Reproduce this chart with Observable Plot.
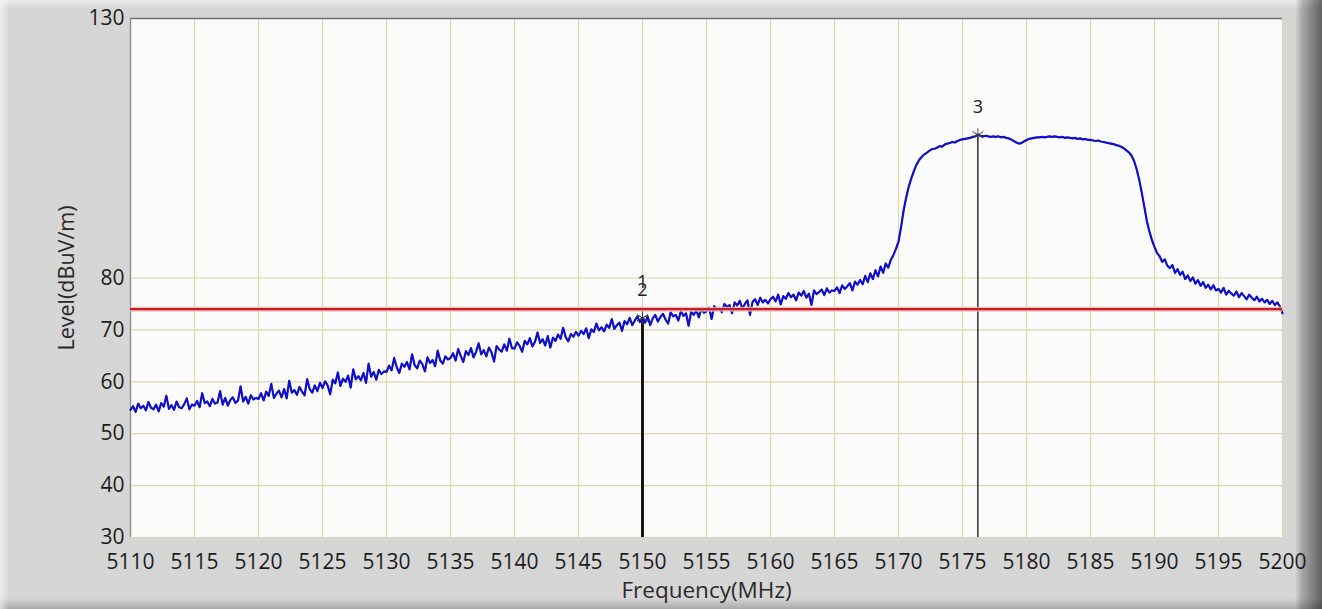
<!DOCTYPE html>
<html>
<head>
<meta charset="utf-8">
<script src="https://cdn.jsdelivr.net/npm/d3@7"></script>
<script src="https://cdn.jsdelivr.net/npm/@observablehq/plot@0.6"></script>
<style>
  html, body { margin: 0; padding: 0; background: #d6d6d6; }
  #panel {
    position: relative;
    width: 1322px;
    height: 609px;
    overflow: hidden;
    background:
      linear-gradient(to right, rgba(255,255,255,0.55) 0px, rgba(255,255,255,0) 9px, rgba(0,0,0,0) 1295px, rgba(0,0,0,0.22) 1302px, rgba(0,0,0,0.55) 1322px),
      linear-gradient(to bottom, #ececec 0px, #d6d6d6 9px, #d6d6d6 598px, #a9a9a9 609px);
  }
  #panel svg { display: block; background: transparent; }
</style>
</head>
<body>
<div id="panel"></div>
<script>
// Sweep settings: first frequency and spacing of the measured points (MHz)
const freqStart = 5110;
const freqStep = 0.2;

// Measured field strength, dBuV/m, one value per sweep point (5110.0 ... 5200.0)
const levels = [
  54.6,55.3,54.2,55.8,54.9,55.4,54.5,56.1,55.0,54.7,55.6,54.3,55.9,55.2,57.3,54.8,55.5,54.6,56.2,55.1,54.9,55.7,56.8,54.7,55.6,
  55.4,56.3,55.1,57.8,55.9,56.2,55.3,56.7,55.8,56.0,58.2,55.6,56.9,55.4,56.5,57.0,55.9,56.4,59.1,56.2,57.1,55.8,57.4,56.6,56.9,
  56.7,57.8,56.4,58.1,57.3,59.6,56.9,57.7,58.3,57.0,58.6,56.8,60.2,57.9,58.4,57.5,59.0,58.1,57.4,60.5,58.6,57.9,59.3,58.2,59.8,
  58.8,60.1,59.3,57.6,60.4,59.7,61.8,59.2,60.6,60.0,61.2,58.9,62.4,60.5,61.1,60.3,61.7,59.8,63.5,61.0,61.9,60.4,62.3,61.5,62.0,
  61.9,63.1,62.2,64.6,62.8,61.7,63.5,62.9,63.8,62.4,65.3,63.2,62.6,64.1,63.4,62.0,64.7,63.6,64.2,63.0,66.0,64.1,63.5,64.9,64.3,
  64.6,65.5,64.1,66.3,65.0,63.8,65.9,65.2,66.5,64.7,65.8,67.4,65.3,66.1,64.9,66.6,65.7,63.9,66.9,66.2,65.8,67.2,66.0,68.3,66.5,
  66.4,67.6,66.9,65.8,67.9,67.2,68.4,66.8,67.7,69.5,67.5,68.2,67.0,68.8,66.6,68.5,67.9,69.1,68.3,70.4,68.6,67.8,69.2,68.7,69.6,
  68.9,69.8,69.2,70.3,68.4,70.1,69.6,71.2,69.9,70.5,69.7,71.0,70.4,72.1,70.2,70.9,71.4,69.8,71.7,71.1,72.3,70.9,71.8,72.6,71.5,
  72.3,71.4,72.6,70.9,72.2,72.9,71.6,72.5,73.1,72.0,71.2,73.4,72.6,72.9,71.8,73.6,72.7,73.2,70.8,73.5,72.9,73.8,72.4,74.1,73.3,
  73.6,74.3,72.1,74.6,73.9,74.2,73.4,75.0,74.4,74.8,73.2,75.3,74.7,75.6,74.1,75.0,75.7,72.9,75.4,75.9,74.8,76.2,75.3,75.8,75.1,
  75.9,76.4,75.5,76.8,74.9,76.5,76.0,77.1,76.3,76.8,75.7,77.2,76.6,77.5,76.2,77.0,74.8,77.6,76.9,77.3,77.8,76.7,78.0,77.2,77.6,
  77.5,78.2,77.1,78.6,77.9,78.4,79.0,77.6,79.3,78.7,79.6,78.8,80.4,79.2,80.9,79.8,81.5,80.3,82.2,81.0,82.8,82.0,83.5,84.4,85.6,
  87.0,89.8,93.0,95.5,97.6,99.2,100.6,101.8,102.7,103.3,103.8,104.1,104.5,104.8,104.9,105.1,105.4,105.3,105.7,105.9,106.0,106.2,106.1,106.4,106.6,
  106.7,106.8,106.9,107.0,107.2,107.3,107.6,107.4,107.3,107.4,107.3,107.2,107.3,107.2,107.3,107.1,107.2,107.0,106.9,106.7,106.4,106.1,105.9,106.0,106.3,
  106.6,106.8,106.9,107.0,107.1,107.1,107.2,107.1,107.2,107.3,107.2,107.3,107.2,107.1,107.2,107.0,107.1,107.0,106.9,107.0,106.8,106.9,106.7,106.8,106.6,
  106.6,106.5,106.4,106.5,106.3,106.2,106.1,106.0,105.9,105.8,105.6,105.5,105.3,105.0,104.6,104.2,103.6,102.6,101.0,99.0,96.5,93.8,91.0,89.0,87.3,
  86.0,84.8,84.2,83.1,83.6,82.4,81.9,82.5,81.0,81.7,80.6,81.2,79.8,80.5,79.4,80.1,78.9,79.6,78.5,79.2,78.1,78.7,77.8,78.6,77.6,
  77.9,77.2,78.1,76.8,77.5,77.0,76.6,77.4,76.3,77.1,76.5,75.9,76.8,76.2,75.7,76.4,75.5,76.0,75.3,75.8,75.0,75.6,74.8,75.3,74.5,
  73.2
];

// Limit line, dBuV/m
const limitLevel = 74;

// Markers
const markerLabels = ["1", "2", "3"];
const markerFreqs = [5150, 5150, 5176.2];
const markerLevels = [72.3, 72.3, 107.6];

// Axis ticks
const xTicks = [5110, 5115, 5120, 5125, 5130, 5135, 5140, 5145, 5150, 5155,
                5160, 5165, 5170, 5175, 5180, 5185, 5190, 5195, 5200];
const yTicks = [30, 40, 50, 60, 70, 80, 130];

const trace = levels.map((v, i) => ({freq: +(freqStart + i * freqStep).toFixed(1), level: v}));

// markers sharing a frequency are stacked: labels offset, rules overlap
const markers = markerLabels.map((label, i) => ({label, freq: markerFreqs[i], level: markerLevels[i]}));
markers.forEach((m) => {
  const same = markers.filter((o) => o.freq === m.freq);
  m.count = same.length;
  m.rank = same.indexOf(m);
});

const font = "'Open Sans', 'Noto Sans', sans-serif";

const chart = Plot.plot({
  width: 1322,
  height: 609,
  marginLeft: 130,
  marginRight: 40,
  marginTop: 18,
  marginBottom: 72,
  style: {fontFamily: font, fontSize: "21px", color: "#1c1c1c", background: "transparent"},
  x: {domain: [5110, 5200]},
  y: {domain: [30, 130]},
  marks: [
    Plot.frame({fill: "#fbfbfb", stroke: null}),
    Plot.gridX(xTicks, {stroke: "#dcd6b2", strokeOpacity: 1, strokeWidth: 1.2}),
    Plot.gridY(yTicks, {stroke: "#dcd6b2", strokeOpacity: 1, strokeWidth: 1.2}),
    Plot.axisX(xTicks, {tickSize: 0, tickPadding: 17, label: null, tickFormat: (d) => String(d)}),
    Plot.axisY(yTicks, {tickSize: 0, tickPadding: 6, label: null, tickFormat: (d) => String(d)}),
    Plot.text(["Frequency(MHz)"], {frameAnchor: "bottom", dy: 60, text: (d) => d, fill: "#2a2a2a", fontSize: 22.5, textAnchor: "middle"}),
    Plot.text(["Level(dBuV/m)"], {frameAnchor: "left", dx: -63, rotate: -90, text: (d) => d, fill: "#2a2a2a", fontSize: 21.5, textAnchor: "middle"}),
    // frame edges
    Plot.ruleY([130], {stroke: "#6f6f6f", strokeWidth: 1.6}),
    Plot.ruleX([5110], {stroke: "#8a8a8a", strokeWidth: 1.3}),
    // marker rules down to the bottom of the plot
    Plot.ruleX(markers, {x: "freq", y1: 30, y2: "level", stroke: "#111", strokeWidth: (d) => 1.3 * d.count}),
    // trace
    Plot.line(trace, {x: "freq", y: "level", stroke: "#1d1d86", strokeWidth: 2.2, curve: "linear"}),
    Plot.line(trace, {x: "freq", y: "level", stroke: "#0a0af2", strokeWidth: 1.2, curve: "linear"}),
    // limit line
    Plot.ruleY([limitLevel], {stroke: "#f0b4b4", strokeWidth: 5, strokeOpacity: 0.8}),
    Plot.ruleY([limitLevel], {stroke: "#c41f22", strokeWidth: 2.2}),
    // marker symbols and labels
    Plot.dot(markers, {x: "freq", y: "level", symbol: "asterisk", r: 6, stroke: "#3a3a3a", strokeWidth: 0.9}),
    Plot.text(markers, {x: "freq", y: "level", text: "label", fill: "#222", fontSize: 18, lineAnchor: "middle"})
  ]
});

document.getElementById("panel").appendChild(chart);

// shift marker labels above their points; labels of coinciding markers are stacked
const labelGroups = chart.querySelectorAll("g[aria-label='text']");
const markerGroup = labelGroups[labelGroups.length - 1];
markerGroup.querySelectorAll("text").forEach((t, i) => {
  const m = markers[i];
  const up = 28 + 8 * (m.count - 1 - m.rank);
  const tr = t.getAttribute("transform") || "";
  t.setAttribute("transform", tr + ` translate(0,${-up})`);
});
</script>
</body>
</html>
